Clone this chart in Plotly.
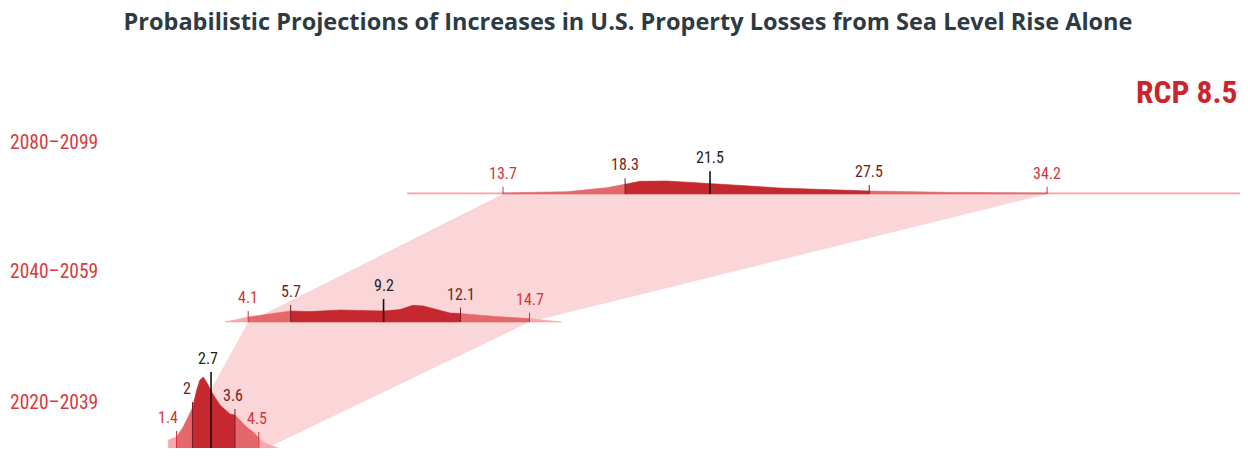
import plotly.graph_objects as go

periods = ["2020–2039", "2040–2059", "2080–2099"]

# percentiles: outer low, inner low, median, inner high, outer high
p2020 = [1.4, 2.0, 2.7, 3.6, 4.5]
p2040 = [4.1, 5.7, 9.2, 12.1, 14.7]
p2080 = [13.7, 18.3, 21.5, 27.5, 34.2]

# density outlines (loss value, relative height)
x2020 = [1.09, 1.09, 1.4, 1.65, 2.0, 2.16, 2.28, 2.41, 2.53, 2.7, 2.79, 3.04,
         3.41, 3.6, 3.79, 4.04, 4.29, 4.5, 4.67, 4.92, 5.17, 5.49, 5.49]
h2020 = [0, 12, 15, 25, 44, 62, 72, 75, 70, 62, 57, 47,
         38, 37, 32, 25, 20, 14, 10, 7, 4.5, 2.5, 0]

x2040 = [3.23, 4.1, 5.17, 5.7, 6.43, 7.56, 8.56, 9.2, 9.82, 10.3, 10.7, 11.2,
         11.7, 12.1, 13.3, 14.7, 15.9]
h2040 = [0, 5, 9, 11, 10.4, 12, 11, 11, 12.4, 16.7, 16, 12.4,
         9, 8.4, 5.7, 3.4, 0]

x2080 = [10.1, 10.1, 13.7, 16.1, 17.6, 18.3, 18.86, 19.87, 20.75, 21.5, 23.0,
         24.1, 25.6, 27.5, 30.4, 34.2, 41.7, 41.7]
h2080 = [0, 1.2, 1.2, 2.3, 6.3, 9.7, 12.7, 13, 11.7, 10.7, 8,
         6, 4.7, 3, 1.7, 1.2, 1.2, 0]

rows = [(p2020, x2020, h2020), (p2040, x2040, h2040), (p2080, x2080, h2080)]
bases = [4, 134, 262]
label_pos = [54, 185, 314]
# small horizontal nudges for the crowded 2020-2039 labels
nudges = [[-9, -5, -3, -2, -2], [0] * 5, [0] * 5]

LIGHT = "#f5a9ad"
MED = "#e4676c"
DARK = "#c5282e"
FAN = "#fad6d8"
OUTER_TXT = "#d5333a"
INNER_TXT = "#761b21"
MED_TXT = "#222222"
NARROW = "Liberation Sans Narrow, Roboto Condensed, Roboto, sans-serif"

fig = go.Figure()

# fans connecting the outer percentiles of consecutive periods
for i in range(len(rows) - 1):
    lo, hi = rows[i], rows[i + 1]
    fig.add_trace(go.Scatter(
        x=[hi[0][0], hi[0][4], lo[0][4], lo[0][0], hi[0][0]],
        y=[bases[i + 1], bases[i + 1], bases[i], bases[i], bases[i + 1]],
        fill="toself", fillcolor=FAN, mode="none", hoverinfo="skip",
        showlegend=False,
    ))

for r, ((pct, xs, hs), base) in enumerate(zip(rows, bases)):
    edges = [xs[0], pct[0], pct[1], pct[3], pct[4], xs[-1]]
    colors = [LIGHT, MED, DARK, MED, LIGHT]
    for a, b, c in zip(edges[:-1], edges[1:], colors):
        seg = [(x, h) for x, h in zip(xs, hs) if a <= x <= b]
        px = [p[0] for p in seg] + [b, a]
        py = [base + p[1] for p in seg] + [base, base]
        fig.add_trace(go.Scatter(
            x=px, y=py, fill="toself", fillcolor=c, mode="lines",
            line=dict(width=0.6, color=c), hoverinfo="skip", showlegend=False,
        ))

    peak = max(hs)
    for k, v in enumerate(pct):
        h = hs[xs.index(v)]
        if k == 2:
            top = max(h + 12, peak + 5)
            col, tcol, w = "#111111", MED_TXT, 1.6
        else:
            top = h + 6
            col = OUTER_TXT if k in (0, 4) else INNER_TXT
            tcol, w = col, 1
        fig.add_shape(type="line", x0=v, x1=v, y0=base, y1=base + top,
                      line=dict(color=col, width=w))
        fig.add_annotation(
            x=v, y=base + top, text=f"{v:g}", showarrow=False,
            yanchor="bottom", yshift=2, xshift=nudges[r][k],
            font=dict(family=NARROW, size=16, color=tcol),
        )

for name, yy in zip(periods, label_pos):
    fig.add_annotation(x=0.0, y=yy, xref="paper", yref="y", text=name,
                       showarrow=False, xanchor="left", yanchor="middle",
                       font=dict(family=NARROW, size=19.5, color="#d83a40"))

fig.add_annotation(x=0.9935, y=364, xref="paper", yref="y", text="<b>RCP 8.5</b>",
                   showarrow=False, xanchor="right", yanchor="middle",
                   font=dict(family=NARROW, size=31.5, color="#c8252c"))

fig.update_layout(
    title=dict(text="<b>Probabilistic Projections of Increases in U.S. Property Losses from Sea Level Rise Alone</b>",
               x=0.5, y=0.968, xanchor="center", yanchor="middle",
               font=dict(family="Open Sans, sans-serif", size=23.5, color="#2c3a44")),
    width=1240, height=440,
    margin=dict(l=0, r=0, t=0, b=0),
    plot_bgcolor="white", paper_bgcolor="white",
    xaxis=dict(range=[-4.95, 41.77], visible=False),
    yaxis=dict(range=[8, 448], visible=False),
)

fig.write_html("out.html")
